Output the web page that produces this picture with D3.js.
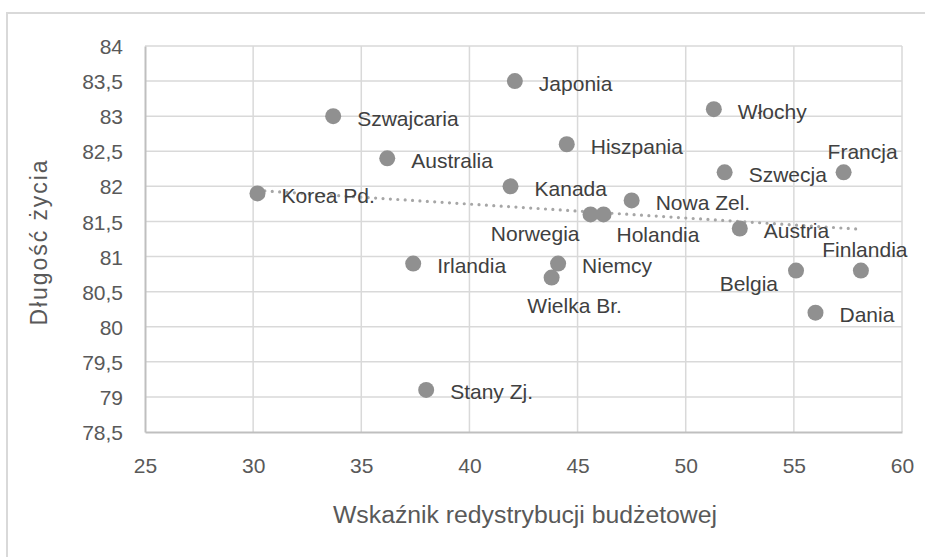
<!DOCTYPE html>
<html>
<head>
<meta charset="utf-8">
<script src="https://cdn.jsdelivr.net/npm/d3@7"></script>
<style>
  html, body { margin: 0; padding: 0; background: #ffffff; }
  svg { display: block; font-family: "Liberation Sans", Arial, sans-serif; }
</style>
</head>
<body>
<svg id="chart" width="925" height="557"></svg>
<script>
// ---- data ----
const countries = ["Korea Pd.", "Szwajcaria", "Australia", "Japonia", "Hiszpania", "Kanada",
  "Norwegia", "Holandia", "Nowa Zel.", "Włochy", "Szwecja", "Francja", "Austria",
  "Irlandia", "Niemcy", "Wielka Br.", "Belgia", "Finlandia", "Dania", "Stany Zj."];
const redistribution = [30.2, 33.7, 36.2, 42.1, 44.5, 41.9, 45.6, 46.2, 47.5, 51.3, 51.8, 57.3, 52.5,
  37.4, 44.1, 43.8, 55.1, 58.1, 56.0, 38.0];
const lifeExpectancy = [81.9, 83.0, 82.4, 83.5, 82.6, 82.0, 81.6, 81.6, 81.8, 83.1, 82.2, 82.2, 81.4,
  80.9, 80.9, 80.7, 80.8, 80.8, 80.2, 79.1];
const xTicks = [25, 30, 35, 40, 45, 50, 55, 60];
const yTicks = [78.5, 79, 79.5, 80, 80.5, 81, 81.5, 82, 82.5, 83, 83.5, 84];
const xTitle = "Wskaźnik redystrybucji budżetowej";
const yTitle = "Długość życia";

// ---- label placement (style, not data) ----
const labelPlacement = {
  "Norwegia":   { dx: -11, dy: 19, anchor: "end" },
  "Holandia":   { dx: 13, dy: 20, anchor: "start" },
  "Finlandia":  { dx: 4, dy: -21, anchor: "middle" },
  "Francja":    { dx: 19, dy: -21, anchor: "middle" },
  "Wielka Br.": { dx: 23, dy: 28, anchor: "middle" },
  "Belgia":     { dx: -18, dy: 13, anchor: "end" }
};
const defaultPlacement = { dx: 24, dy: 2, anchor: "start" };

const svg = d3.select("#chart");
const plotLeft = 145, plotRight = 902, plotTop = 46, plotBottom = 432;

// outer chart border
svg.append("rect").attr("x", 7).attr("y", 13).attr("width", 940).attr("height", 570)
  .attr("fill", "none").attr("stroke", "#d9d9d9").attr("stroke-width", 2);

const x = d3.scaleLinear().domain([25, 60]).range([plotLeft, plotRight]);
const y = d3.scaleLinear().domain([78.5, 84]).range([plotBottom, plotTop]);

// gridlines
const grid = svg.append("g");
grid.selectAll("line.h").data(yTicks.slice(1)).join("line").attr("class", "h")
  .attr("x1", plotLeft).attr("x2", plotRight)
  .attr("y1", d => y(d)).attr("y2", d => y(d))
  .attr("stroke", "#d9d9d9").attr("stroke-width", 1.5);
grid.selectAll("line.v").data(xTicks.slice(1)).join("line").attr("class", "v")
  .attr("y1", plotTop).attr("y2", plotBottom)
  .attr("x1", d => x(d)).attr("x2", d => x(d))
  .attr("stroke", "#d9d9d9").attr("stroke-width", 1.5);

// axes
const xAxis = svg.append("g").attr("transform", `translate(0,${plotBottom})`)
  .call(d3.axisBottom(x).tickValues(xTicks).tickSize(0).tickPadding(26).tickFormat(d3.format("d")));
const yAxis = svg.append("g").attr("transform", `translate(${plotLeft},0)`)
  .call(d3.axisLeft(y).tickValues(yTicks).tickSize(0).tickPadding(22)
    .tickFormat(d => String(d).replace(".", ",")));
[xAxis, yAxis].forEach(a => {
  a.select(".domain").attr("stroke", "#bfbfbf").attr("stroke-width", 2);
  a.selectAll("text").attr("fill", "#595959").attr("font-size", 21)
    .attr("font-family", "'Liberation Sans', Arial, sans-serif");
});
xAxis.selectAll("text").attr("dy", "0.71em").attr("y", 26);
yAxis.selectAll("text").attr("dy", "0.36em");

// trendline (least squares)
const n = redistribution.length;
const mx = d3.mean(redistribution), my = d3.mean(lifeExpectancy);
let sxy = 0, sxx = 0;
for (let i = 0; i < n; i++) {
  sxy += (redistribution[i] - mx) * (lifeExpectancy[i] - my);
  sxx += (redistribution[i] - mx) ** 2;
}
const slope = sxy / sxx, intercept = my - slope * mx;
const [xmin, xmax] = d3.extent(redistribution);
svg.append("line")
  .attr("x1", x(xmin)).attr("y1", y(intercept + slope * xmin))
  .attr("x2", x(xmax)).attr("y2", y(intercept + slope * xmax))
  .attr("stroke", "#a6a6a6").attr("stroke-width", 3.2)
  .attr("stroke-linecap", "round").attr("stroke-dasharray", "0 7.4");

// points
const pts = countries.map((c, i) => ({ c, vx: redistribution[i], vy: lifeExpectancy[i] }));
svg.append("g").selectAll("circle").data(pts).join("circle")
  .attr("cx", d => x(d.vx)).attr("cy", d => y(d.vy)).attr("r", 8)
  .attr("fill", "#909090");

// labels
svg.append("g").selectAll("text").data(pts).join("text")
  .each(function(d) {
    const p = labelPlacement[d.c] || defaultPlacement;
    d3.select(this)
      .attr("x", x(d.vx) + p.dx).attr("y", y(d.vy) + p.dy)
      .attr("text-anchor", p.anchor);
  })
  .attr("dy", "0.36em")
  .attr("font-size", 21).attr("fill", "#404040")
  .text(d => d.c);

// axis titles
svg.append("text").attr("x", 525).attr("y", 515).attr("dy", "0.36em")
  .attr("text-anchor", "middle").attr("font-size", 23).attr("fill", "#595959")
  .attr("textLength", 384).attr("lengthAdjust", "spacingAndGlyphs")
  .text(xTitle);
svg.append("text").attr("transform", "translate(39,243) rotate(-90)").attr("dy", "0.36em")
  .attr("text-anchor", "middle").attr("font-size", 23).attr("fill", "#595959")
  .attr("textLength", 165).attr("lengthAdjust", "spacing")
  .text(yTitle);
</script>
</body>
</html>
